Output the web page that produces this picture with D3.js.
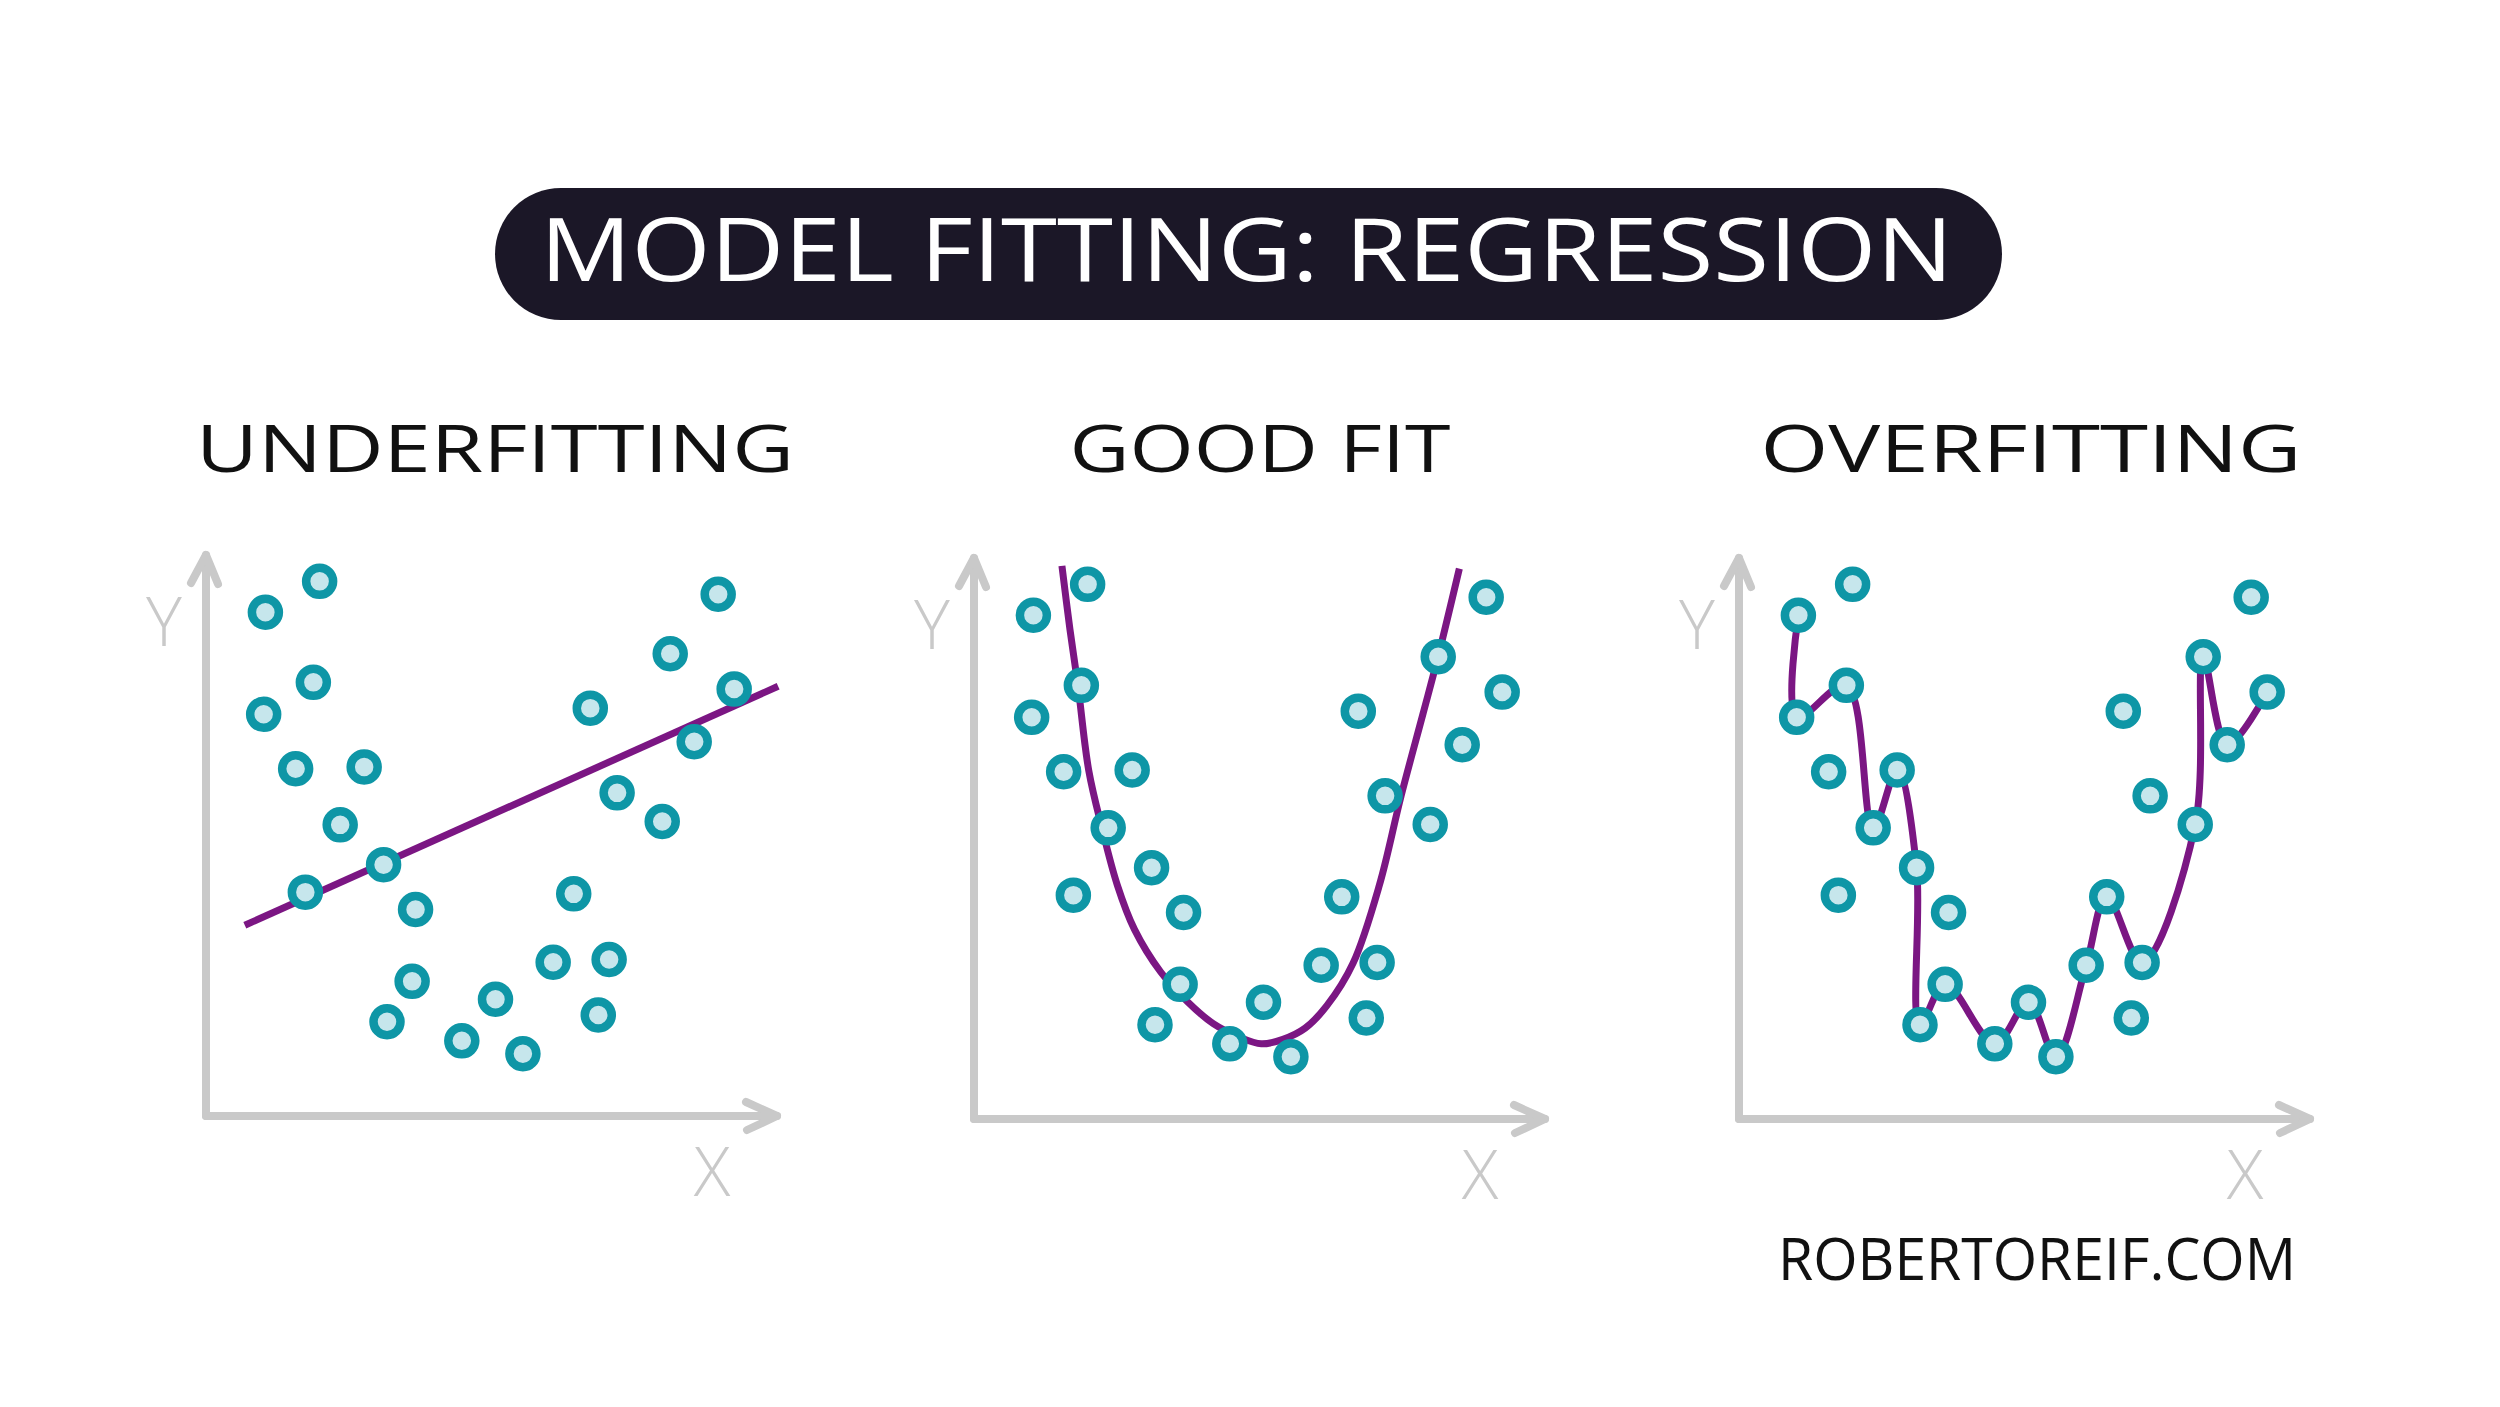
<!DOCTYPE html>
<html>
<head>
<meta charset="utf-8">
<script src="https://cdn.jsdelivr.net/npm/d3@7"></script>
<style>
  html, body { margin: 0; padding: 0; background: #ffffff; }
  svg { display: block; }
</style>
</head>
<body>
<script>
// ---------------- DATA ----------------
const titleText = "MODEL FITTING: REGRESSION";
const panelTitles = ["UNDERFITTING", "GOOD FIT", "OVERFITTING"];
const axisLabels = ["X", "Y"];
const footerText = "ROBERTOREIF.COM";

// Shared scatter data (same points in every panel), x/y in 0..100 axis units
const pointX = [10.4, 19.9, 10.1, 18.8, 15.7, 27.7, 23.5, 17.4, 31.1, 36.7, 36.1, 31.7, 44.8,
                50.7, 55.5, 60.8, 64.4, 70.6, 68.7, 67.3, 72.0, 79.9, 81.3, 89.7, 92.5, 85.5];
const pointY = [89.8, 95.3, 71.6, 77.3, 61.9, 62.2, 51.9, 39.9, 44.8, 36.8, 24.0, 16.8, 13.4,
                20.8, 11.1, 27.4, 39.6, 27.9, 18.0, 72.7, 57.6, 52.5, 82.4, 93.0, 76.1, 66.7];

// Underfitting: straight line endpoints
const underfitX = [6.8, 100.2];
const underfitY = [34.0, 76.6];

// Good fit: smooth U-shaped curve
const goodfitX = [15.4, 16.8, 18.2, 20.1, 22.4, 25.1, 28.1, 32.7, 37.3, 41.9, 46.5, 50.3,
                  54.1, 58.0, 61.8, 66.4, 71.0, 74.8, 78.6, 81.3, 85.0];
const goodfitY = [98.6, 87.3, 77.3, 62.1, 51.9, 41.7, 33.8, 26.2, 21.0, 17.0, 14.6, 13.4,
                  14.2, 16.2, 20.2, 27.8, 41.7, 57.6, 72.1, 82.5, 98.1];

// Overfitting: path visits these point indices (0-based) in order
const overfitOrder = [0, 2, 3, 6, 5, 8, 11, 10, 12, 13, 14, 15, 16, 17, 21, 22, 25, 24];

// ---------------- LAYOUT ----------------
const W = 2500, H = 1407;
const panelOrigins = [[206, 1116], [974, 1119], [1739, 1119]];
const panelTitleCenters = [495, 1260, 2031];
const panelTitleWidths = [598, 381, 541];
const axisLenX = 571, axisLenY = 561;

const colors = {
  pill: "#1b1727",
  axis: "#c9c9c9",
  line: "#7b1683",
  ptStroke: "#0e96a6",
  ptFill: "#c6e6ec",
  text: "#111111"
};

const svg = d3.select("body").append("svg")
  .attr("width", W).attr("height", H)
  .attr("viewBox", `0 0 ${W} ${H}`);

svg.append("rect").attr("width", W).attr("height", H).attr("fill", "#ffffff");

// Title pill
svg.append("rect")
  .attr("x", 495).attr("y", 188)
  .attr("width", 1507).attr("height", 132)
  .attr("rx", 66).attr("ry", 66)
  .attr("fill", colors.pill);

svg.append("text")
  .attr("x", 540).attr("y", 281)
  .attr("textLength", 1413)
  .attr("lengthAdjust", "spacingAndGlyphs")
  .attr("font-family", "'Open Sans', 'Noto Sans', sans-serif")
  .attr("font-size", 88)
  .attr("font-weight", 400)
  .attr("fill", "#ffffff")
  .text(titleText);

// Panel titles
panelTitles.forEach((t, i) => {
  svg.append("text")
    .attr("x", panelTitleCenters[i] - panelTitleWidths[i] / 2)
    .attr("y", 472)
    .attr("textLength", panelTitleWidths[i])
    .attr("lengthAdjust", "spacingAndGlyphs")
    .attr("font-family", "'Open Sans', 'Noto Sans', sans-serif")
    .attr("font-size", 66)
    .attr("font-weight", 400)
    .attr("fill", colors.text)
    .text(t);
});

// Footer
svg.append("text")
  .attr("x", 1778).attr("y", 1280)
  .attr("textLength", 518)
  .attr("lengthAdjust", "spacingAndGlyphs")
  .attr("font-family", "'Open Sans', 'Noto Sans', sans-serif")
  .attr("font-size", 58)
  .attr("font-weight", 400)
  .attr("fill", colors.text)
  .text(footerText);

// Scales (shared shape; each panel translated to its origin)
const x = d3.scaleLinear().domain([0, 100]).range([0, axisLenX]);
const y = d3.scaleLinear().domain([0, 100]).range([0, -axisLenY]);

const points = pointX.map((v, i) => ({ x: v, y: pointY[i] }));

panelOrigins.forEach((o, pi) => {
  const g = svg.append("g").attr("transform", `translate(${o[0]},${o[1]})`);

  // Axes
  const axisG = g.append("g")
    .attr("fill", "none")
    .attr("stroke", colors.axis)
    .attr("stroke-width", 8)
    .attr("stroke-linecap", "round")
    .attr("stroke-linejoin", "round");
  axisG.append("path").attr("d", `M${x(0)},${y(0)} L${x(100)},${y(0)}`);
  axisG.append("path").attr("d", `M${x(0)},${y(0)} L${x(0)},${y(100)}`);
  // arrowheads
  axisG.append("path").attr("d",
    `M${x(100) - 31},${y(0) - 14} L${x(100)},${y(0)} L${x(100) - 30},${y(0) + 14}`);
  axisG.append("path").attr("d",
    `M${x(0) - 15},${y(100) + 28} L${x(0)},${y(100)} L${x(0) + 12},${y(100) + 29}`);

  // Axis labels
  g.append("text")
    .attr("x", x(100) - 65).attr("y", 80)
    .attr("text-anchor", "middle")
    .attr("font-family", "'Open Sans', 'Noto Sans', sans-serif")
    .attr("font-weight", 300)
    .attr("font-size", 68)
    .attr("fill", colors.axis)
    .text(axisLabels[0]);
  g.append("text")
    .attr("x", -42).attr("y", -470)
    .attr("text-anchor", "middle")
    .attr("font-family", "'Open Sans', 'Noto Sans', sans-serif")
    .attr("font-weight", 300)
    .attr("font-size", 68)
    .attr("fill", colors.axis)
    .text(axisLabels[1]);

  // Fit lines
  let lineData, curve;
  if (pi === 0) {
    lineData = underfitX.map((v, i) => ({ x: v, y: underfitY[i] }));
    curve = d3.curveLinear;
  } else if (pi === 1) {
    lineData = goodfitX.map((v, i) => ({ x: v, y: goodfitY[i] }));
    curve = d3.curveCatmullRom.alpha(0.5);
  } else {
    lineData = overfitOrder.map(k => points[k]);
    curve = d3.curveCatmullRom.alpha(0.5);
  }
  const lineGen = d3.line().x(d => x(d.x)).y(d => y(d.y)).curve(curve);
  g.append("path")
    .datum(lineData)
    .attr("d", lineGen)
    .attr("fill", "none")
    .attr("stroke", colors.line)
    .attr("stroke-width", 7)
    .attr("stroke-linecap", "butt")
    .attr("stroke-linejoin", "round");

  // Points
  g.append("g").selectAll("circle")
    .data(points)
    .join("circle")
    .attr("cx", d => x(d.x))
    .attr("cy", d => y(d.y))
    .attr("r", 13.5)
    .attr("fill", colors.ptFill)
    .attr("stroke", colors.ptStroke)
    .attr("stroke-width", 8.5);
});
</script>
</body>
</html>
